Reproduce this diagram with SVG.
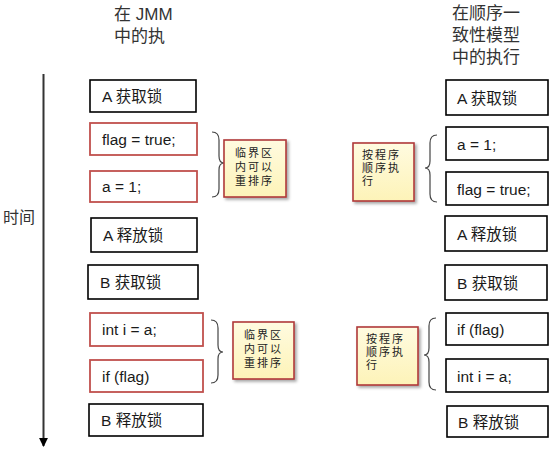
<svg xmlns="http://www.w3.org/2000/svg" width="553" height="451" viewBox="0 0 553 451">
<style>
text{font-family:"Liberation Sans","Noto Sans CJK SC",sans-serif;fill:#1a1a1a}
.t{font-size:17px;fill:#333}
.b{fill:#fff;stroke:#000;stroke-width:1.6}
.r{fill:#fff;stroke:#c0504d;stroke-width:1.8}
.bt{font-size:15.5px}
.n{fill:url(#ng);stroke:#b03a3a;stroke-width:1.6}
.nt{font-size:11px;fill:#222}
.br{fill:none;stroke:#444;stroke-width:1.2}
</style>
<defs>
<linearGradient id="ng" x1="0" y1="0" x2="0" y2="1">
<stop offset="0" stop-color="#fffbe0"/>
<stop offset="1" stop-color="#fdf3b8"/>
</linearGradient>
<filter id="sh" x="-20%" y="-20%" width="140%" height="140%">
<feDropShadow dx="2" dy="2" stdDeviation="1.5" flood-color="#000" flood-opacity="0.35"/>
</filter>
<marker id="ah" viewBox="0 0 10 10" refX="9" refY="5" markerWidth="9" markerHeight="9" markerUnits="userSpaceOnUse" orient="auto">
<path d="M0,0 L10,5 L0,10 z" fill="#000"/>
</marker>
</defs>

<g id="titles">
<text class="t" x="114" y="20">在 JMM</text>
<text class="t" x="114" y="42">中的执</text>
<text class="t" x="452" y="19">在顺序一</text>
<text class="t" x="452" y="41">致性模型</text>
<text class="t" x="452" y="63">中的执行</text>
<text class="t" x="3" y="223" style="font-size:16px">时间</text>
</g>

<g id="connectors">
<line x1="43.5" y1="74" x2="43.5" y2="446" stroke="#333" stroke-width="2" marker-end="url(#ah)"/>
<path class="br" d="M212,132 Q219,132 219,140 L219,156 Q219,163 224,163 Q219,163 219,170 L219,189 Q219,197 212,197"/>
<path class="br" d="M211,320 Q218,320 218,328 L218,345 Q218,352 223,352 Q218,352 218,359 L218,375 Q218,383 211,383"/>
<path class="br" d="M437,135 Q430,135 430,143 L430,161 Q430,168 425,168 Q430,168 430,175 L430,194 Q430,202 437,202"/>
<path class="br" d="M436,318 Q429,318 429,326 L429,348 Q429,355 424,355 Q429,355 429,362 L429,382 Q429,390 436,390"/>
</g>

<g id="l1"><rect class="b" x="90" y="80" width="106" height="32"/><text class="bt" x="102" y="102">A 获取锁</text></g>
<g id="l2"><rect class="r" x="90" y="123" width="107" height="32"/><text class="bt" x="102" y="145">flag = true;</text></g>
<g id="l3"><rect class="r" x="90" y="171" width="107" height="31"/><text class="bt" x="102" y="192">a = 1;</text></g>
<g id="l4"><rect class="b" x="91" y="218" width="106" height="34"/><text class="bt" x="103" y="241">A 释放锁</text></g>
<g id="l5"><rect class="b" x="88" y="265" width="110" height="34"/><text class="bt" x="100" y="288">B 获取锁</text></g>
<g id="l6"><rect class="r" x="90" y="313" width="113" height="33"/><text class="bt" x="102" y="335">int i = a;</text></g>
<g id="l7"><rect class="r" x="90" y="360" width="113" height="32"/><text class="bt" x="102" y="382">if (flag)</text></g>
<g id="l8"><rect class="b" x="89" y="404" width="114" height="32"/><text class="bt" x="101" y="426">B 释放锁</text></g>

<g id="r1"><rect class="b" x="446" y="80" width="102" height="35"/><text class="bt" x="457" y="104">A 获取锁</text></g>
<g id="r2"><rect class="b" x="446" y="127" width="102" height="33"/><text class="bt" x="457" y="150">a = 1;</text></g>
<g id="r3"><rect class="b" x="446" y="172" width="102" height="33"/><text class="bt" x="457" y="195">flag = true;</text></g>
<g id="r4"><rect class="b" x="445" y="216" width="102" height="35"/><text class="bt" x="457" y="240">A 释放锁</text></g>
<g id="r5"><rect class="b" x="445" y="265" width="102" height="35"/><text class="bt" x="457" y="289">B 获取锁</text></g>
<g id="r6"><rect class="b" x="446" y="313" width="102" height="32"/><text class="bt" x="457" y="335">if (flag)</text></g>
<g id="r7"><rect class="b" x="446" y="359" width="102" height="33"/><text class="bt" x="457" y="382">int i = a;</text></g>
<g id="r8"><rect class="b" x="447" y="406" width="101" height="31"/><text class="bt" x="458" y="428">B 释放锁</text></g>

<g id="n1"><rect class="n" x="224" y="140" width="62" height="57" filter="url(#sh)"/>
<text class="nt" x="235" y="157" letter-spacing="2">临界区</text><text class="nt" x="235" y="171" letter-spacing="2">内可以</text><text class="nt" x="235" y="185" letter-spacing="2">重排序</text></g>
<g id="n2"><rect class="n" x="233" y="322" width="61" height="57" filter="url(#sh)"/>
<text class="nt" x="244" y="339" letter-spacing="2">临界区</text><text class="nt" x="244" y="353" letter-spacing="2">内可以</text><text class="nt" x="244" y="367" letter-spacing="2">重排序</text></g>
<g id="n3"><rect class="n" x="353" y="143" width="61" height="58" filter="url(#sh)"/>
<text class="nt" x="362" y="159" letter-spacing="2">按程序</text><text class="nt" x="362" y="172" letter-spacing="2">顺序执</text><text class="nt" x="362" y="185" letter-spacing="2">行</text></g>
<g id="n4"><rect class="n" x="357" y="327" width="61" height="58" filter="url(#sh)"/>
<text class="nt" x="366" y="343" letter-spacing="2">按程序</text><text class="nt" x="366" y="356" letter-spacing="2">顺序执</text><text class="nt" x="366" y="369" letter-spacing="2">行</text></g>
</svg>
